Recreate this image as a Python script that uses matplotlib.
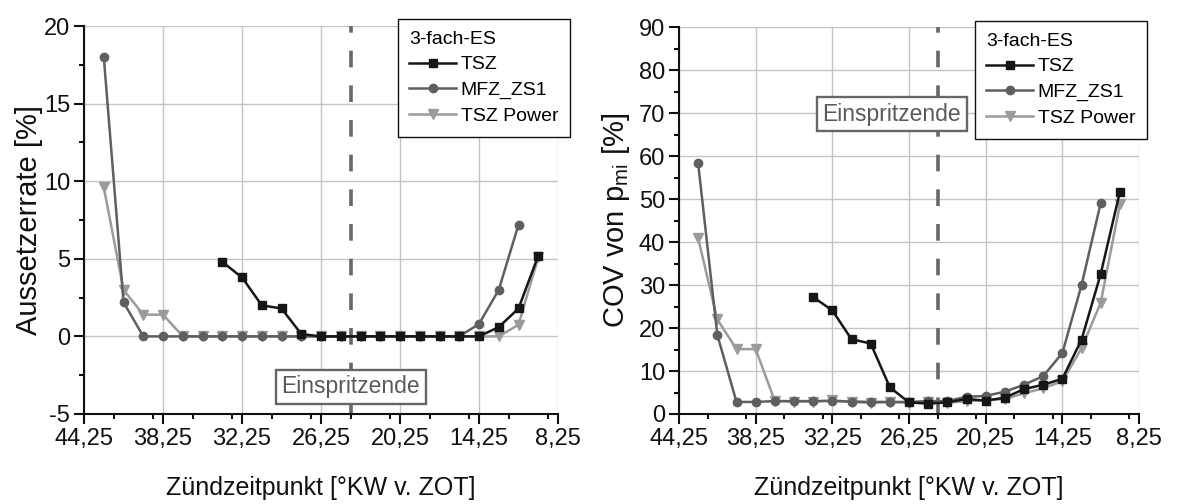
import numpy as np
import matplotlib
matplotlib.use("Agg")
import matplotlib.pyplot as plt
from matplotlib.ticker import MultipleLocator, FixedLocator

plt.rcParams['font.family'] = ['Liberation Sans', 'DejaVu Sans']
plt.rcParams['axes.unicode_minus'] = False

# Zuendzeitpunkte (x), Schritt 1,5 Grad KW
x_mfz = [42.75, 41.25, 39.75, 38.25, 36.75, 35.25, 33.75, 32.25, 30.75, 29.25, 27.75,
         26.25, 24.75, 23.25, 21.75, 20.25, 18.75, 17.25, 15.75, 14.25, 12.75, 11.25]
x_pow = [42.75, 41.25, 39.75, 38.25, 36.75, 35.25, 33.75, 32.25, 30.75, 29.25, 27.75,
         26.25, 24.75, 23.25, 21.75, 20.25, 18.75, 17.25, 15.75, 14.25, 12.75, 11.25, 9.75]
x_tsz = [33.75, 32.25, 30.75, 29.25, 27.75, 26.25, 24.75, 23.25, 21.75, 20.25, 18.75,
         17.25, 15.75, 14.25, 12.75, 11.25, 9.75]

# Aussetzerrate [%]
mis_tsz = [4.8, 3.8, 2.0, 1.8, 0.15, 0, 0, 0, 0, 0, 0, 0, 0, 0, 0.6, 1.8, 5.2]
mis_mfz = [18.0, 2.2, 0, 0, 0, 0, 0, 0, 0, 0, 0, 0, 0, 0, 0, 0, 0, 0, 0, 0.8, 3.0, 7.2]
mis_pow = [9.6, 3.0, 1.4, 1.4, 0, 0, 0, 0, 0, 0, 0, 0, 0, 0, 0, 0, 0, 0, 0, 0, 0, 0.75, 5.1]

# COV von p_mi [%]
cov_tsz = [27.2, 24.1, 17.4, 16.4, 6.2, 2.7, 2.4, 2.7, 3.5, 3.1, 3.8, 5.8, 6.8, 8.2,
           17.3, 32.6, 51.7]
cov_mfz = [58.3, 18.4, 2.8, 2.8, 3.0, 3.0, 3.0, 3.0, 2.9, 2.8, 2.8, 2.8, 3.0, 3.0,
           4.0, 4.2, 5.2, 6.8, 8.8, 14.2, 30.0, 49.1]
cov_pow = [40.9, 22.0, 15.1, 15.1, 3.0, 2.9, 2.9, 3.2, 2.8, 2.6, 2.8, 2.6, 2.7, 2.6,
           3.0, 3.2, 3.5, 4.8, 6.0, 7.6, 15.3, 25.9, 48.8]

xticks = [44.25, 38.25, 32.25, 26.25, 20.25, 14.25, 8.25]
xticklabels = ['44,25', '38,25', '32,25', '26,25', '20,25', '14,25', '8,25']
einspritzende = 24.0

c_tsz = '#161616'
c_mfz = '#5f5f5f'
c_pow = '#9b9b9b'

fig = plt.figure(figsize=(11.99, 5.04), dpi=100)
ax1 = fig.add_axes([0.0701, 0.1786, 0.3953, 0.7698])
ax2 = fig.add_axes([0.5663, 0.1786, 0.3837, 0.7673])


def style(ax, ymin, ymax, ymajor):
    ax.set_xlim(44.25, 8.25)
    ax.set_ylim(ymin, ymax)
    ax.xaxis.set_major_locator(FixedLocator(xticks))
    ax.set_xticklabels(xticklabels)
    ax.xaxis.set_minor_locator(MultipleLocator(3))
    ax.yaxis.set_major_locator(MultipleLocator(ymajor))
    ax.yaxis.set_minor_locator(MultipleLocator(ymajor / 2))
    for s in ['top', 'right']:
        ax.spines[s].set_visible(False)
    for s in ['left', 'bottom']:
        ax.spines[s].set_linewidth(1.5)
        ax.spines[s].set_color('#111111')
    ax.tick_params(which='major', direction='out', length=7, width=1.5,
                   labelsize=17, color='#111111', labelcolor='#111111', pad=3)
    ax.tick_params(which='minor', direction='out', length=3.5, width=1.5,
                   color='#111111')
    ax.grid(True, which='major', color='#c4c4c4', linewidth=1.0)
    ax.set_axisbelow(True)
    ax.axvline(einspritzende, color='#676767', lw=2.6, dashes=(4.6, 5.0), zorder=1.5)
    ax.set_xlabel('Zündzeitpunkt [°KW v. ZOT]', fontsize=18, labelpad=19,
                  color='#111111')


def draw(ax, ytsz, ymfz, ypow):
    ax.plot(x_tsz, ytsz, '-s', color=c_tsz, lw=1.8, ms=6, label='TSZ', zorder=5)
    ax.plot(x_mfz, ymfz, '-o', color=c_mfz, lw=1.8, ms=6, label='MFZ_ZS1', zorder=4)
    ax.plot(x_pow, ypow, '-v', color=c_pow, lw=1.8, ms=6.8, label='TSZ Power', zorder=3)


def legend(ax, anchor):
    leg = ax.legend(title='3-fach-ES', loc='upper right', bbox_to_anchor=anchor,
                    bbox_transform=fig.transFigure, fontsize=14, title_fontsize=14,
                    fancybox=False, framealpha=1, edgecolor='#111111',
                    handlelength=2.4, handletextpad=0.25, labelspacing=0.42,
                    borderpad=0.6, borderaxespad=0, alignment='left')
    leg.get_frame().set_linewidth(1.0)
    leg.set_zorder(10)


def label_box(ax, x, y):
    ax.text(x, y, 'Einspritzende', fontsize=16.5, color='#5a5a5a', ha='center',
            va='center', zorder=8,
            bbox=dict(boxstyle='square,pad=0.25', fc='white', ec='#666666', lw=1.7))


style(ax1, -5, 20, 5)
draw(ax1, mis_tsz, mis_mfz, mis_pow)
ax1.set_ylabel('Aussetzerrate [%]', fontsize=21, labelpad=1, color='#111111')
legend(ax1, (570 / 1199, 1 - 19 / 504))
label_box(ax1, einspritzende, -3.25)

style(ax2, 0, 90, 10)
draw(ax2, cov_tsz, cov_mfz, cov_pow)
ax2.set_ylabel('COV von p$_{\\mathregular{mi}}$ [%]', fontsize=21, labelpad=5,
               color='#111111')
legend(ax2, (1147 / 1199, 1 - 21 / 504))
label_box(ax2, 27.6, 69.8)

fig.savefig('out.png', dpi=100)
